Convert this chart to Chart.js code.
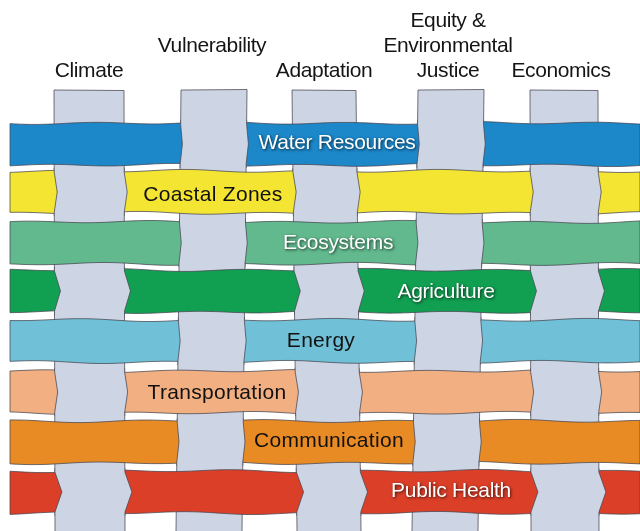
<!DOCTYPE html>
<html lang="en">
<head>
<meta charset="UTF-8">
<title>Woven themes and sectors</title>
<script src="https://cdn.jsdelivr.net/npm/chart.js"></script>
<style>
  html, body { margin: 0; padding: 0; background: #fff; }
  #wrap { width: 640px; height: 531px; }
</style>
</head>
<body>
<div id="wrap"><canvas id="weave" width="640" height="531"></canvas></div>
<script>
// vertical strips (cross-cutting themes); '' keeps a label one line up
const themes = [['Climate'], ['Vulnerability', ''], ['Adaptation'], ['Equity &', 'Environmental', 'Justice'], ['Economics']];
const themeX = [89, 214, 324, 451, 564];      // strip centre at its top, x axis units
const themeDrift = [1, -5, 5, -6, 1];         // how far the strip leans by the bottom
const themeLabelX = [89, 212, 324, 448, 561];

// horizontal ribbons (sectors)
const sectors = ['Water Resources', 'Coastal Zones', 'Ecosystems', 'Agriculture', 'Energy', 'Transportation', 'Communication', 'Public Health'];
const sectorY = [144, 192, 243, 291, 341, 392, 442, 492];   // ribbon centre, y axis units
const sectorLabelX = [337, 213, 338, 446, 321, 217, 329, 451];
const sectorLabelY = [143, 195, 243, 292, 341, 393, 441, 491];
const sectorColors = ['#1c87c9', '#f4e533', '#62b98d', '#11a052', '#70c1d7', '#f2af81', '#e88b24', '#dc3f28'];
const sectorTextLight = [true, false, true, true, false, false, false, true];

const stripFill = '#cdd4e4';
const edge = 'rgba(70,70,80,0.75)';
const stripTop = 90;
const ribbonHalf = 21;
const font = '"Liberation Sans", Arial, Helvetica, sans-serif';

const weavePlugin = {
  id: 'weave',
  afterDraw(chart) {
    const { ctx, scales: { x, y } } = chart;
    const yMax = y.max;
    const cx = (j, v) => themeX[j] + themeDrift[j] * (v - stripTop) / (yMax - stripTop);
    const halfW = [35, 33, 32, 33, 34];
    const wave = (i, v, s) => 1.1 * Math.sin(v / 20 + i * 1.7 + s * 2.3) + 0.5 * Math.sin(v / 45 + i + s);
    const over = (i, j) => (i + j) % 2 === 0;   // ribbon over strip?
    const notch = [2, 3, 2, 6, 2, 3, 2, 7];

    ctx.save();
    ctx.lineJoin = 'round';
    ctx.lineWidth = 1;
    ctx.strokeStyle = edge;

    // strips, full height
    themes.forEach((t, j) => {
      const b = yMax;
      ctx.beginPath();
      ctx.moveTo(x.getPixelForValue(cx(j, b) - halfW[j]), y.getPixelForValue(b));
      ctx.lineTo(x.getPixelForValue(cx(j, stripTop) - halfW[j]), y.getPixelForValue(stripTop));
      ctx.lineTo(x.getPixelForValue(cx(j, stripTop) + halfW[j]), y.getPixelForValue(stripTop + (j % 2 ? -0.5 : 0.5)));
      ctx.lineTo(x.getPixelForValue(cx(j, b) + halfW[j]), y.getPixelForValue(b));
      ctx.fillStyle = stripFill;
      ctx.fill();
      ctx.stroke();
    });

    // ribbons
    sectors.forEach((name, i) => {
      const c = sectorY[i];
      ctx.beginPath();
      for (let v = 10; v <= 640; v += 5) {
        const py = y.getPixelForValue(c - ribbonHalf + wave(i, v, 0));
        v === 10 ? ctx.moveTo(x.getPixelForValue(v), py) : ctx.lineTo(x.getPixelForValue(v), py);
      }
      for (let v = 640; v >= 10; v -= 5) {
        ctx.lineTo(x.getPixelForValue(v), y.getPixelForValue(c + ribbonHalf + wave(i, v, 1)));
      }
      ctx.closePath();
      ctx.fillStyle = sectorColors[i];
      ctx.fill();
      ctx.stroke();

      // strip passes over the ribbon here
      themes.forEach((t, j) => {
        if (over(i, j)) return;
        const T = c - ribbonHalf - 3, B = c + ribbonHalf + 3;
        const bt = c - ribbonHalf + 1, bb = c + ribbonHalf - 1;
        const n = notch[i];
        const L = v => x.getPixelForValue(cx(j, v) - halfW[j]);
        const R = v => x.getPixelForValue(cx(j, v) + halfW[j]);
        const P = v => y.getPixelForValue(v);
        ctx.beginPath();
        ctx.moveTo(L(T), P(T));
        ctx.lineTo(R(T), P(T));
        ctx.lineTo(R(bt), P(bt));
        ctx.lineTo(R(c) + n, P(c));
        ctx.lineTo(R(bb), P(bb));
        ctx.lineTo(R(B), P(B));
        ctx.lineTo(L(B), P(B));
        ctx.lineTo(L(bb), P(bb));
        ctx.lineTo(L(c) + n, P(c));
        ctx.lineTo(L(bt), P(bt));
        ctx.closePath();
        ctx.fillStyle = stripFill;
        ctx.fill();
        [L, R].forEach(E => {
          ctx.beginPath();
          ctx.moveTo(E(T), P(T));
          ctx.lineTo(E(bt), P(bt));
          ctx.lineTo(E(c) + n, P(c));
          ctx.lineTo(E(bb), P(bb));
          ctx.lineTo(E(B), P(B));
          ctx.stroke();
        });
      });
    });

    // ribbon labels
    ctx.font = '21px ' + font;
    ctx.textAlign = 'center';
    ctx.textBaseline = 'middle';
    sectors.forEach((name, i) => {
      const px = x.getPixelForValue(sectorLabelX[i]);
      const py = y.getPixelForValue(sectorLabelY[i]);
      ctx.letterSpacing = sectorTextLight[i] ? '-0.3px' : '0.3px';
      if (sectorTextLight[i]) {
        ctx.save();
        ctx.shadowColor = 'rgba(0,0,0,0.75)';
        ctx.shadowBlur = 3;
        ctx.shadowOffsetX = 1;
        ctx.shadowOffsetY = 1.5;
        ctx.fillStyle = '#ffffff';
        ctx.fillText(name, px, py);
        ctx.restore();
      } else {
        ctx.fillStyle = '#111111';
        ctx.fillText(name, px, py);
      }
    });

    // strip labels, bottom line aligned
    ctx.letterSpacing = '-0.4px';
    ctx.fillStyle = '#151515';
    themes.forEach((lines, j) => {
      lines.forEach((line, k) => {
        const row = lines.length - 1 - k;
        ctx.fillText(line, x.getPixelForValue(themeLabelX[j]), y.getPixelForValue(71 - row * 25));
      });
    });
    ctx.restore();
  }
};

new Chart(document.getElementById('weave'), {
  type: 'scatter',
  data: { datasets: [] },
  options: {
    responsive: false,
    animation: false,
    events: [],
    layout: { padding: 0 },
    plugins: { legend: { display: false }, tooltip: { enabled: false } },
    scales: {
      x: { type: 'linear', min: 0, max: 640, display: false },
      y: { type: 'linear', min: 0, max: 531, reverse: true, display: false }
    }
  },
  plugins: [weavePlugin]
});
</script>
</body>
</html>
